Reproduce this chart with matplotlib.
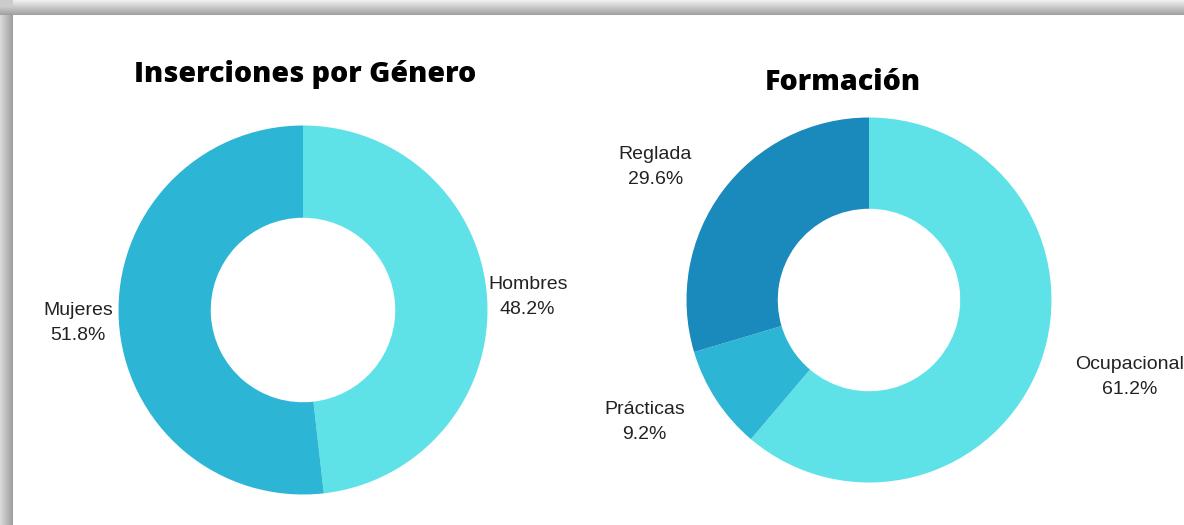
import numpy as np
import matplotlib.pyplot as plt

# data
genero_labels = ["Hombres", "Mujeres"]
genero_values = [48.2, 51.8]
genero_colors = ["#5ee2e7", "#2db5d5"]

formacion_labels = ["Ocupacional", "Prácticas", "Reglada"]
formacion_values = [61.2, 9.2, 29.6]
formacion_colors = ["#5ee2e7", "#2db5d5", "#1a89bb"]

W, H = 1184, 525
fig = plt.figure(figsize=(W / 100, H / 100), dpi=100)
fig.patch.set_facecolor("white")

# shadow frame at top and left edge
bg = fig.add_axes([0, 0, 1, 1])
yy, xx = np.mgrid[0:H, 0:W]
img = np.ones((H, W))
top = 15
left = 13
tmask = yy < top
img[tmask] = 0.93 - 0.32 * (yy[tmask] / top)
lmask = (xx < left) & (yy >= top)
img[lmask] = 0.85 - 0.25 * (xx[lmask] / left)
cmask = (xx < left) & (yy < top)
img[cmask] = np.minimum(img[cmask], 0.8)
bg.imshow(img, cmap="gray", vmin=0, vmax=1, aspect="auto", interpolation="bilinear")
bg.axis("off")


def donut(cx, cy, r, lim, values, labels, colors, labeldist, label_pos=None):
    half = lim * r
    ax = fig.add_axes([(cx - half) / W, (H - cy - half) / H, 2 * half / W, 2 * half / H])
    texts = [f"{l}\n{v:.1f}%" for l, v in zip(labels, values)]
    wedges, txts = ax.pie(values, labels=texts, colors=colors, startangle=90,
                          counterclock=False, labeldistance=labeldist,
                          wedgeprops=dict(width=0.5, linewidth=0),
                          textprops=dict(fontsize=14, color="#222222",
                                         family="Liberation Sans", linespacing=1.6))
    for i, t in enumerate(txts):
        t.set_ha("center")
        t.set_va("center")
        t.set_multialignment("center")
        if label_pos is not None:
            t.set_position(label_pos[i])
    ax.set_xlim(-lim, lim)
    ax.set_ylim(-lim, lim)
    ax.set_aspect("equal")
    ax.axis("off")
    return ax


donut(303, 310, 184.5, 1.6, genero_values, genero_labels, genero_colors, 1.22)
# label placement for the second donut (pixel offsets / radius)
formacion_label_pos = [(1.43, -0.42), (-1.23, -0.67), (-1.17, 0.73)]
donut(869, 300, 182.5, 1.7, formacion_values, formacion_labels, formacion_colors, 1.4,
      formacion_label_pos)

fig.text(305 / W, 1 - 75 / H, "Inserciones por Género", ha="center", va="center",
         fontsize=20.6, fontweight="heavy", family="Open Sans", color="black")
fig.text(843 / W, 1 - 82 / H, "Formación", ha="center", va="center",
         fontsize=20.6, fontweight="heavy", family="Open Sans", color="black")

fig.savefig("out.png", dpi=100)
